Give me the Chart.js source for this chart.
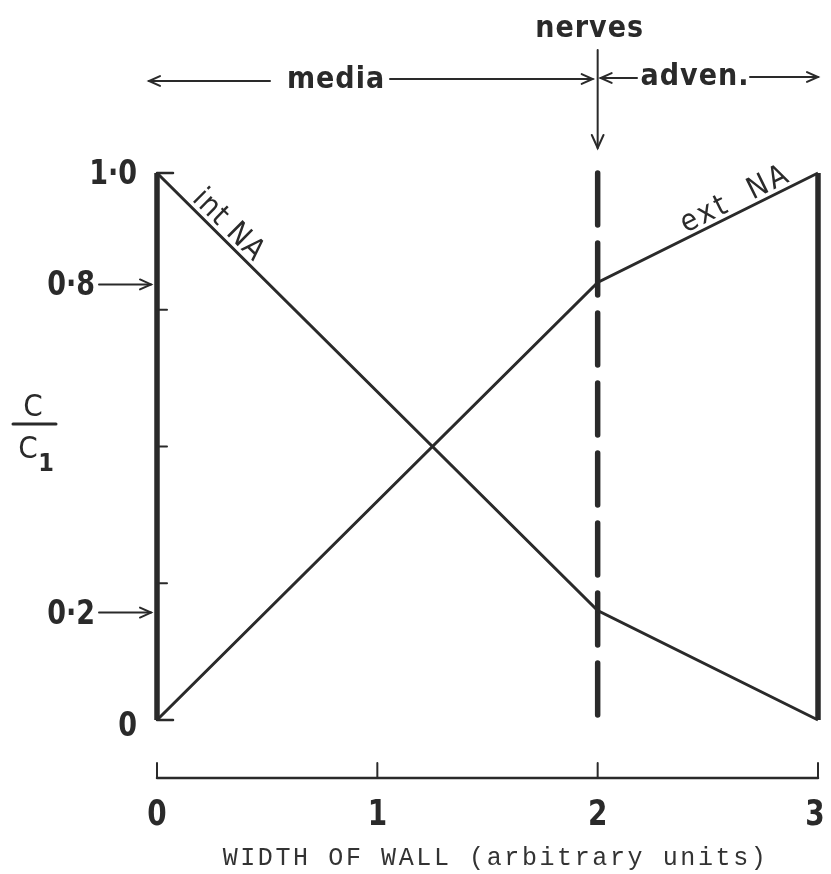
<!DOCTYPE html>
<html>
<head>
<meta charset="utf-8">
<script src="https://cdn.jsdelivr.net/npm/chart.js@4/dist/chart.umd.min.js"></script>
<style>
  html, body { margin: 0; padding: 0; background: #fff; }
  #wrap { width: 831px; height: 874px; }
</style>
</head>
<body>
<div id="wrap"><canvas id="chart" width="831" height="874"></canvas></div>
<script>
// concentration profiles across the wall (C / C1)
const intNA = [{ x: 0, y: 1.0 }, { x: 2, y: 0.2 }, { x: 3, y: 0 }];
const extNA = [{ x: 0, y: 0 }, { x: 2, y: 0.8 }, { x: 3, y: 1.0 }];

const xTicks = [0, 1, 2, 3];
const xTickLabels = ['0', '1', '2', '3'];
const yMinorTicks = [0.25, 0.5, 0.75];
const yLabelValues = [0, 0.2, 0.8, 1.0];
const yLabels = ['0', '0·2', '0·8', '1·0'];
const yArrowed = [false, true, true, false];

const nervesAt = 2;
const wallEdges = [0, 3];

const INK = '#2a2a2a';
const LETTER = '"DejaVu Sans Condensed", "DejaVu Sans", sans-serif';

function arrowHead(ctx, x, y, dir, size) {
  // dir: angle the arrow points to
  ctx.save();
  ctx.translate(x, y);
  ctx.rotate(dir);
  ctx.beginPath();
  ctx.moveTo(-size, -size * 0.45);
  ctx.lineTo(0, 0);
  ctx.lineTo(-size, size * 0.45);
  ctx.stroke();
  ctx.restore();
}

function hArrow(ctx, x1, x2, y) {
  ctx.beginPath();
  ctx.moveTo(x1, y);
  ctx.lineTo(x2, y);
  ctx.stroke();
  arrowHead(ctx, x2, y, x2 > x1 ? 0 : Math.PI, 11);
}

// stencil-style figures are taller than the font's own digits
function tallText(ctx, text, x, y, stretch) {
  ctx.save();
  ctx.translate(x, y);
  ctx.scale(1, stretch);
  ctx.fillText(text, 0, 0);
  ctx.restore();
}

const annotations = {
  id: 'annotations',
  afterDatasetsDraw(chart) {
    const ctx = chart.ctx;
    const xs = chart.scales.x;
    const ys = chart.scales.y;
    const x0 = xs.getPixelForValue(0);
    const x3 = xs.getPixelForValue(3);
    const xn = xs.getPixelForValue(nervesAt);
    const yTop = ys.getPixelForValue(1);
    const yBot = ys.getPixelForValue(0);

    ctx.save();
    ctx.strokeStyle = INK;
    ctx.fillStyle = INK;
    ctx.lineCap = 'round';

    // corner stubs and minor ticks on the inner wall
    ctx.lineWidth = 2.5;
    [1, 0].forEach(v => {
      const y = ys.getPixelForValue(v);
      ctx.beginPath();
      ctx.moveTo(x0, y);
      ctx.lineTo(x0 + 16, y);
      ctx.stroke();
    });
    ctx.lineWidth = 2;
    yMinorTicks.forEach(v => {
      const y = ys.getPixelForValue(v);
      ctx.beginPath();
      ctx.moveTo(x0, y);
      ctx.lineTo(x0 + 10, y);
      ctx.stroke();
    });

    // y labels, two of them pointing at the wall
    ctx.font = 'bold 30px ' + LETTER;
    ctx.textBaseline = 'middle';
    ctx.textAlign = 'right';
    yLabelValues.forEach((v, i) => {
      const y = ys.getPixelForValue(v);
      if (yArrowed[i]) {
        tallText(ctx, yLabels[i], x0 - 62, y + 4, 1.15);
        ctx.lineWidth = 2;
        hArrow(ctx, x0 - 58, x0 - 6, y + 2);
      } else {
        tallText(ctx, yLabels[i], x0 - 20, y + (v === 0 ? 7 : 2), 1.15);
      }
    });

    // C / C1
    ctx.textAlign = 'center';
    ctx.font = '31px ' + LETTER;
    ctx.fillText('C', 33, 408);
    ctx.lineWidth = 3;
    ctx.beginPath();
    ctx.moveTo(13, 424);
    ctx.lineTo(56, 424);
    ctx.stroke();
    ctx.fillText('C', 28, 450);
    ctx.font = 'bold 25px ' + LETTER;
    ctx.fillText('1', 46, 464);

    // line labels along the profiles
    ctx.font = '30px ' + LETTER;
    ctx.textAlign = 'left';
    ctx.textBaseline = 'alphabetic';
    const angA = Math.atan2(ys.getPixelForValue(0.2) - yTop, xn - x0);
    const pA = { x: xs.getPixelForValue(0.14), y: ys.getPixelForValue(1 - 0.4 * 0.14) };
    ctx.save();
    ctx.translate(pA.x, pA.y);
    ctx.rotate(angA);
    ctx.letterSpacing = '1px';
    ctx.fillText('int NA', 0, -5);
    ctx.restore();

    const angB = Math.atan2(yTop - ys.getPixelForValue(0.8), x3 - xn);
    const pB = { x: xs.getPixelForValue(2.41), y: ys.getPixelForValue(0.8 + 0.2 * 0.41) };
    ctx.save();
    ctx.translate(pB.x, pB.y);
    ctx.rotate(angB);
    ctx.letterSpacing = '3px';
    ctx.fillText('ext  NA', 0, -5);
    ctx.restore();
    ctx.letterSpacing = '0px';
    ctx.textAlign = 'center';

    // x axis drawn apart from the plot
    const axY = yBot + 58;
    ctx.lineWidth = 2.5;
    ctx.beginPath();
    ctx.moveTo(x0, axY);
    ctx.lineTo(x3, axY);
    ctx.stroke();
    ctx.font = 'bold 31px ' + LETTER;
    ctx.textBaseline = 'middle';
    xTicks.forEach((v, i) => {
      const x = xs.getPixelForValue(v);
      ctx.lineWidth = 2;
      ctx.beginPath();
      ctx.moveTo(x, axY);
      ctx.lineTo(x, axY - 15);
      ctx.stroke();
      tallText(ctx, xTickLabels[i], x + (i === 3 ? -3 : 0), axY + 38, 1.15);
    });

    ctx.font = '25px "Liberation Mono", "DejaVu Sans Mono", monospace';
    ctx.letterSpacing = '2.6px';
    ctx.fillStyle = '#333';
    ctx.fillText('WIDTH OF WALL (arbitrary units)', (x0 + x3) / 2 + 8, 858);
    ctx.letterSpacing = '0px';
    ctx.fillStyle = INK;

    // layer names and the nerve position above the plot
    ctx.font = 'bold 30px ' + LETTER;
    ctx.letterSpacing = '1px';
    ctx.fillText('nerves', xn - 8, 29);
    ctx.fillText('media', 336, 80);
    ctx.fillText('adven.', 695, 77);
    ctx.letterSpacing = '0px';

    ctx.lineWidth = 2;
    hArrow(ctx, 270, x0 - 8, 81);
    hArrow(ctx, 390, xn - 5, 79);
    hArrow(ctx, 637, xn + 3, 78);
    hArrow(ctx, 750, x3, 77);
    ctx.beginPath();
    ctx.moveTo(xn, 50);
    ctx.lineTo(xn, 148);
    ctx.stroke();
    arrowHead(ctx, xn, 148, Math.PI / 2, 13);

    ctx.restore();
  }
};

const line = (data, width, extra) => Object.assign({
  data: data,
  showLine: true,
  borderColor: INK,
  borderWidth: width,
  pointRadius: 0,
  tension: 0,
  clip: false
}, extra || {});

new Chart(document.getElementById('chart'), {
  type: 'scatter',
  data: {
    datasets: [
      line(intNA, 3),
      line(extNA, 3),
      line(wallEdges.slice(0, 1).flatMap(x => [{ x: x, y: 0 }, { x: x, y: 1 }]), 5.5),
      line(wallEdges.slice(1).flatMap(x => [{ x: x, y: 0 }, { x: x, y: 1 }]), 5.5),
      line([{ x: nervesAt, y: 1 }, { x: nervesAt, y: 0 }], 5.5, { borderDash: [52, 18], borderCapStyle: 'round' })
    ]
  },
  options: {
    responsive: false,
    animation: false,
    devicePixelRatio: 1,
    layout: { padding: { left: 157, right: 13, top: 173, bottom: 154 } },
    plugins: { legend: { display: false }, tooltip: { enabled: false } },
    scales: {
      x: { type: 'linear', min: 0, max: 3, display: false },
      y: { type: 'linear', min: 0, max: 1, display: false }
    }
  },
  plugins: [annotations]
});
</script>
</body>
</html>
